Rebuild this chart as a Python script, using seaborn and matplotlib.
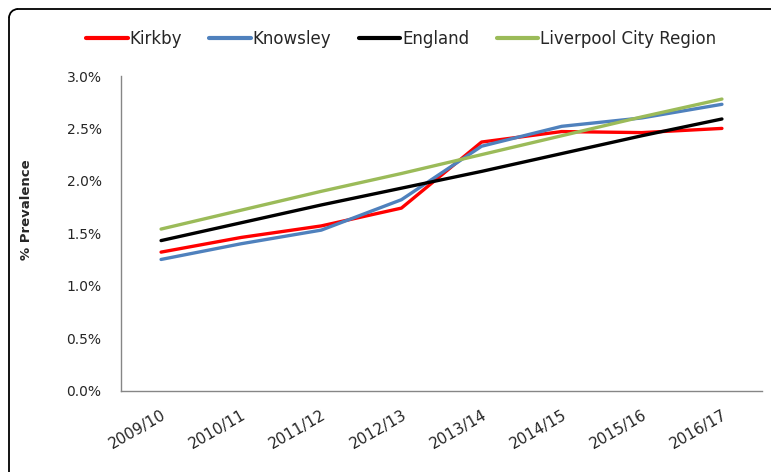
import seaborn as sns
import matplotlib.pyplot as plt
from matplotlib.lines import Line2D
from matplotlib.patches import Arc
import pandas as pd

# Data
years = ['2009/10', '2010/11', '2011/12', '2012/13', '2013/14', '2014/15', '2015/16', '2016/17']
kirkby = [1.32, 1.46, 1.57, 1.74, 2.37, 2.47, 2.46, 2.50]
knowsley = [1.25, 1.40, 1.53, 1.82, 2.33, 2.52, 2.60, 2.73]
england = [1.43, 1.60, 1.77, 1.93, 2.09, 2.26, 2.43, 2.59]
lcr = [1.54, 1.72, 1.90, 2.07, 2.25, 2.43, 2.61, 2.78]

series = {'Kirkby': kirkby, 'Knowsley': knowsley, 'England': england,
          'Liverpool City Region': lcr}
colors = {'Kirkby': '#FF0000', 'Knowsley': '#4F81BD', 'England': '#000000',
          'Liverpool City Region': '#9BBB59'}

df = pd.DataFrame([(y, name, v / 100) for name, vals in series.items()
                   for y, v in zip(years, vals)],
                  columns=['year', 'area', 'prevalence'])

sns.set_style('white')
plt.rcParams['font.family'] = ['DejaVu Sans']

fig = plt.figure(figsize=(7.71, 4.72), dpi=100)
W, H = 771, 472
ax = fig.add_axes([121 / W, 1 - 390.5 / H, (762 - 121) / W, (390.5 - 76) / H])

sns.lineplot(data=df, x='year', y='prevalence', hue='area', palette=colors,
             linewidth=2.4, ax=ax, sort=False)

ax.set_ylim(0, 0.03)
ax.set_xlim(-0.5, 7.5)
ax.set_yticks([i * 0.005 for i in range(7)])
ax.set_yticklabels([f'{i * 0.5:.1f}%' for i in range(7)], fontsize=10, color='#262626')
ax.set_xticks(range(len(years)))
ax.set_xticklabels(years, rotation=30, ha='right', rotation_mode='anchor',
                   fontsize=11, color='#262626')
ax.tick_params(axis='y', length=3, color='#868686', pad=11)
ax.tick_params(axis='x', length=0, pad=12)
ax.set_xlabel('')
ax.set_ylabel('% Prevalence', fontsize=9.5, fontweight='bold')
ax.yaxis.set_label_coords((33 - 121) / 641, (390.5 - 210) / 314.5)

for s in ['top', 'right']:
    ax.spines[s].set_visible(False)
for s in ['left', 'bottom']:
    ax.spines[s].set_color('#868686')
    ax.spines[s].set_linewidth(1)

ax.legend(loc='center', bbox_to_anchor=(401 / W, 1 - 39 / H),
          bbox_transform=fig.transFigure, ncol=4, frameon=False, fontsize=12,
          handlelength=2.5, handletextpad=0.1, columnspacing=1.65)
for line in ax.get_legend().get_lines():
    line.set_linewidth(3)

# outer chart border: left and top edges with a rounded top-left corner
r = 9
px = fig.dpi_scale_trans.frozen().scale(1 / 100)
fig.add_artist(Line2D([9, 9], [0, H - 9 - r], color='black', lw=1.3, transform=px))
fig.add_artist(Line2D([9 + r, W + 5], [H - 9, H - 9], color='black', lw=1.3, transform=px))
fig.add_artist(Arc((9 + r, H - 9 - r), 2 * r, 2 * r, theta1=90, theta2=180,
                   color='black', lw=1.3, transform=px))

fig.savefig('out.png', dpi=100)
